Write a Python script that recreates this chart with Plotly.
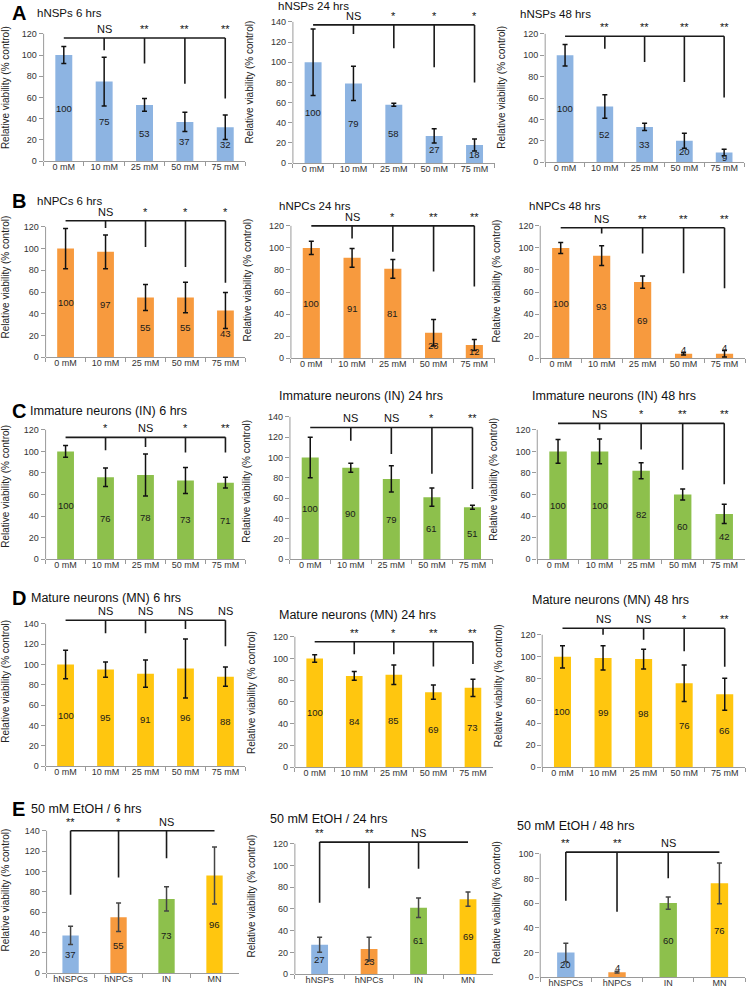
import plotly.graph_objects as go

W, H = 746, 995

conc = ["0 mM", "10 mM", "25 mM", "50 mM", "75 mM"]
cells_e1 = ["hNSPCs", "hNPCs", "IN", "MN"]
cells_e2 = ["hNSPs", "hNPCs", "IN", "MN"]

blue = "#8DB4E2"
orange = "#F79A3E"
green = "#8DC04C"
yellow = "#FFC60F"
cell_colors = [blue, orange, green, yellow]

# A - hNSPs
nsp6_val = [100, 75, 53, 37, 32]
nsp6_err = [8, 23, 6, 9, 11.5]
nsp6_drop = [None, 104.6, 92, 73, 59]
nsp6_sig = [None, "NS", "**", "**", "**"]
nsp6_bracket = 116

nsp24_val = [100, 79, 58, 27, 18]
nsp24_err = [33, 17, 1.5, 7, 6]
nsp24_drop = [None, 128, 114, 95, 80]
nsp24_sig = [None, "NS", "*", "*", "*"]
nsp24_bracket = 137

nsp48_val = [100, 52, 33, 20, 9]
nsp48_err = [10, 11, 3.5, 7, 3]
nsp48_drop = [None, 106, 93.6, 75, 60.5]
nsp48_sig = [None, "**", "**", "**", "**"]
nsp48_bracket = 117.8

# B - hNPCs
npc6_val = [100, 97, 55, 55, 43]
npc6_err = [18.5, 15.5, 12, 14, 16.5]
npc6_drop = [None, 119, 101.5, 83, 68.6]
npc6_sig = [None, "NS", "*", "*", "*"]
npc6_bracket = 125.6

npc24_val = [100, 91, 81, 23, 12]
npc24_err = [6, 8.5, 8.5, 12, 5]
npc24_drop = [None, 108.5, 96.5, 78.5, 65]
npc24_sig = [None, "NS", "*", "**", "**"]
npc24_bracket = 120

npc48_val = [100, 93, 69, 4, 4]
npc48_err = [5, 9, 5.5, 1, 3]
npc48_drop = [None, 113, 95, 77, 63.5]
npc48_sig = [None, "NS", "**", "**", "**"]
npc48_bracket = 118.3

# C - immature neurons
in6_val = [100, 76, 78, 73, 71]
in6_err = [5.5, 8.5, 19.5, 12, 5]
in6_drop = [None, 101, 104, 99, 99]
in6_sig = [None, "*", "NS", "*", "**"]
in6_bracket = 113

in24_val = [100, 90, 79, 61, 51]
in24_err = [20, 4.5, 13, 9, 2]
in24_drop = [None, 116.6, 103.5, 84, 69]
in24_sig = [None, "NS", "NS", "*", "**"]
in24_bracket = 129.6

in48_val = [100, 100, 82, 60, 42]
in48_err = [11, 11.5, 7.5, 5, 9]
in48_drop = [None, 120, 101.7, 83, 69.5]
in48_sig = [None, "NS", "*", "**", "**"]
in48_bracket = 126

# D - mature neurons
mn6_val = [100, 95, 91, 96, 88]
mn6_err = [14, 7.5, 13.5, 29, 9.5]
mn6_drop = [None, 130.7, 130.7, 135, 118]
mn6_sig = [None, "NS", "NS", "NS", "NS"]
mn6_bracket = 143.5

mn24_val = [100, 84, 85, 69, 73]
mn24_err = [3.5, 4, 9, 6.5, 8]
mn24_drop = [None, 104, 104, 92.6, 95]
mn24_sig = [None, "**", "*", "**", "**"]
mn24_bracket = 115.4

mn48_val = [100, 99, 98, 76, 66]
mn48_err = [10, 11, 9, 16.5, 14.5]
mn48_drop = [None, 120, 115.5, 105, 91]
mn48_sig = [None, "NS", "NS", "*", "**"]
mn48_bracket = 126

# E - 50 mM EtOH across cell types
et6_val = [37, 55, 73, 96]
et6_err = [9, 14, 12, 28]
et6_drop = [77, 94, 113, None]
et6_sig = ["**", "*", "NS", None]
et6_bracket = 140

et24_val = [27, 23, 61, 69]
et24_err = [7, 11, 9, 6.5]
et24_drop = [65.6, 79, 97, None]
et24_sig = ["**", "**", "NS", None]
et24_bracket = 121.5

et48_val = [20, 4, 60, 76]
et48_err = [7.5, 0.8, 5, 16.5]
et48_drop = [61.8, 53, 80, None]
et48_sig = ["**", "**", "NS", None]
et48_bracket = 101.3

SANS = "Liberation Sans, Arial, sans-serif"

# box = (left px, right px, px of top tick, px of zero)
panels = [
    dict(cats=conc, val=nsp6_val, err=nsp6_err, drop=nsp6_drop, sig=nsp6_sig, bracket=nsp6_bracket,
         color=blue, ymax=120, title="hNSPs 6 hrs", letter="A", box=(36, 240, 34, 162), txy=(27, 13)),
    dict(cats=conc, val=nsp24_val, err=nsp24_err, drop=nsp24_drop, sig=nsp24_sig, bracket=nsp24_bracket,
         color=blue, ymax=140, title="hNSPs 24 hrs", box=(288, 492, 22, 164), txy=(271, 6)),
    dict(cats=conc, val=nsp48_val, err=nsp48_err, drop=nsp48_drop, sig=nsp48_sig, bracket=nsp48_bracket,
         color=blue, ymax=120, title="hNSPs 48 hrs", box=(543, 744, 34, 163), txy=(516, 14)),
    dict(cats=conc, val=npc6_val, err=npc6_err, drop=npc6_drop, sig=npc6_sig, bracket=npc6_bracket,
         color=orange, ymax=120, title="hNPCs 6 hrs", letter="B", box=(38, 240, 228, 359), txy=(27, 202)),
    dict(cats=conc, val=npc24_val, err=npc24_err, drop=npc24_drop, sig=npc24_sig, bracket=npc24_bracket,
         color=orange, ymax=120, title="hNPCs 24 hrs", box=(286, 492, 227, 360), txy=(272, 207)),
    dict(cats=conc, val=npc48_val, err=npc48_err, drop=npc48_drop, sig=npc48_sig, bracket=npc48_bracket,
         color=orange, ymax=120, title="hNPCs 48 hrs", box=(538, 745, 227, 360), txy=(525, 207)),
    dict(cats=conc, val=in6_val, err=in6_err, drop=in6_drop, sig=in6_sig, bracket=in6_bracket,
         color=green, ymax=120, title="Immature neurons (IN) 6 hrs", letter="C", box=(38, 240, 432, 562),
         txy=(20, 413), big=True),
    dict(cats=conc, val=in24_val, err=in24_err, drop=in24_drop, sig=in24_sig, bracket=in24_bracket,
         color=green, ymax=140, title="Immature neurons (IN) 24 hrs", box=(285, 490, 419, 562),
         txy=(272, 398), big=True),
    dict(cats=conc, val=in48_val, err=in48_err, drop=in48_drop, sig=in48_sig, bracket=in48_bracket,
         color=green, ymax=120, title="Immature neurons (IN) 48 hrs", box=(535, 745, 432, 562),
         txy=(528, 398), big=True),
    dict(cats=conc, val=mn6_val, err=mn6_err, drop=mn6_drop, sig=mn6_sig, bracket=mn6_bracket,
         color=yellow, ymax=140, title="Mature neurons (MN) 6 hrs", letter="D", box=(38, 240, 627, 770),
         txy=(21, 601), big=True),
    dict(cats=conc, val=mn24_val, err=mn24_err, drop=mn24_drop, sig=mn24_sig, bracket=mn24_bracket,
         color=yellow, ymax=120, title="Mature neurons (MN) 24 hrs", box=(290, 490, 640, 771),
         txy=(272, 618), big=True),
    dict(cats=conc, val=mn48_val, err=mn48_err, drop=mn48_drop, sig=mn48_sig, bracket=mn48_bracket,
         color=yellow, ymax=120, title="Mature neurons (MN) 48 hrs", box=(540, 745, 638, 771),
         txy=(528, 603), big=True),
    dict(cats=cells_e1, val=et6_val, err=et6_err, drop=et6_drop, sig=et6_sig, bracket=et6_bracket,
         color=cell_colors, ymax=140, title="50 mM EtOH / 6 hrs", letter="E", box=(39, 233, 835, 978),
         txy=(21, 813), big=True, ecol="#444"),
    dict(cats=cells_e2, val=et24_val, err=et24_err, drop=et24_drop, sig=et24_sig, bracket=et24_bracket,
         color=cell_colors, ymax=120, title="50 mM EtOH / 24 hrs", box=(290, 490, 848, 979),
         txy=(263, 823), big=True, ecol="#444"),
    dict(cats=cells_e1, val=et48_val, err=et48_err, drop=et48_drop, sig=et48_sig, bracket=et48_bracket,
         color=cell_colors, ymax=100, title="50 mM EtOH / 48 hrs", box=(538, 745, 858, 982),
         txy=(512, 830), big=True, ecol="#444"),
]

fig = go.Figure()
axes = {}
shapes = []
annotations = []
line_col = "#9a9a9a"

for i, p in enumerate(panels, start=1):
    sfx = "" if i == 1 else str(i)
    xa, ya = "x" + sfx, "y" + sfx
    x0, x1, top_px, zero_px = p["box"]
    ppu = (zero_px - top_px) / p["ymax"]
    rtop = p["bracket"] + 24 / ppu
    dom_top = max(zero_px - rtop * ppu, 0)
    rtop = (zero_px - dom_top) / ppu
    n = len(p["cats"])
    big = p.get("big", False)

    fig.add_trace(go.Bar(
        x=p["cats"], y=p["val"], xaxis=xa, yaxis=ya,
        marker=dict(color=p["color"], line=dict(width=0)),
        width=0.42 if n == 5 else 0.34,
        error_y=dict(type="data", array=p["err"], color=p.get("ecol", "#111"),
                     thickness=1.5, width=2.5),
        showlegend=False, hoverinfo="skip",
    ))

    axes["xaxis" + sfx] = dict(
        domain=[x0 / W, x1 / W], anchor=ya, type="category",
        tickson="boundaries", ticks="outside", ticklen=4, tickcolor=line_col,
        ticklabelstandoff=-3,
        showline=True, linecolor=line_col, linewidth=1, showgrid=False, zeroline=False,
        tickfont=dict(size=9, color="#333", family=SANS), fixedrange=True,
    )
    axes["yaxis" + sfx] = dict(
        domain=[1 - zero_px / H, 1 - dom_top / H], anchor=xa, range=[0, rtop],
        tickvals=list(range(0, p["ymax"] + 1, 20)), ticks="outside", ticklen=4,
        tickcolor=line_col, showline=False, showgrid=False, zeroline=False,
        tickfont=dict(size=9, color="#333", family=SANS), fixedrange=True,
        title=dict(text="Relative viability (% control)", font=dict(size=10, color="#222", family=SANS)),
    )

    # y axis line up to the top tick only
    shapes.append(dict(type="line", xref=xa + " domain", yref=ya + " domain",
                       x0=0, x1=0, y0=0, y1=p["ymax"] / rtop,
                       line=dict(color=line_col, width=1)))

    # significance bracket
    shapes.append(dict(type="line", xref=xa, yref=ya, x0=0, x1=n - 1,
                       y0=p["bracket"], y1=p["bracket"], line=dict(color="#1a1a1a", width=1.6)))
    for j, d in enumerate(p["drop"]):
        if d is not None:
            shapes.append(dict(type="line", xref=xa, yref=ya, x0=j, x1=j,
                               y0=p["bracket"], y1=d, line=dict(color="#1a1a1a", width=1.6)))
    for j, s in enumerate(p["sig"]):
        if s:
            annotations.append(dict(x=p["cats"][j], y=p["bracket"], xref=xa, yref=ya, text=s,
                                    showarrow=False, yanchor="bottom", yshift=1,
                                    font=dict(size=11, color="#111", family=SANS)))

    # value labels
    for j, v in enumerate(p["val"]):
        ty = v / 2 if v >= 8 else v + p["err"][j] + 3
        annotations.append(dict(x=p["cats"][j], y=ty, xref=xa, yref=ya, text=str(v),
                                showarrow=False, font=dict(size=9.5, color="#1a1a1a", family=SANS)))

    # panel title
    tx, ty_px = p["txy"]
    annotations.append(dict(x=tx / W, y=1 - ty_px / H, xref="paper", yref="paper", text=p["title"],
                            showarrow=False, xanchor="left", yanchor="middle",
                            font=dict(size=12.5 if big else 11.5, color="#111", family=SANS)))
    if p.get("letter"):
        annotations.append(dict(x=2 / W, y=1 - ty_px / H, xref="paper", yref="paper",
                                text="<b>" + p["letter"] + "</b>", showarrow=False,
                                xanchor="left", yanchor="middle",
                                font=dict(size=20, color="#000", family=SANS)))

fig.update_layout(
    width=W, height=H, margin=dict(l=0, r=0, t=0, b=0),
    paper_bgcolor="white", plot_bgcolor="white",
    font=dict(family=SANS), shapes=shapes, annotations=annotations,
    **axes,
)

# drop the default page margin so the figure sits at the window origin
fig.write_html("out.html", config={"displayModeBar": False},
               post_script="document.body.style.margin='0';")
